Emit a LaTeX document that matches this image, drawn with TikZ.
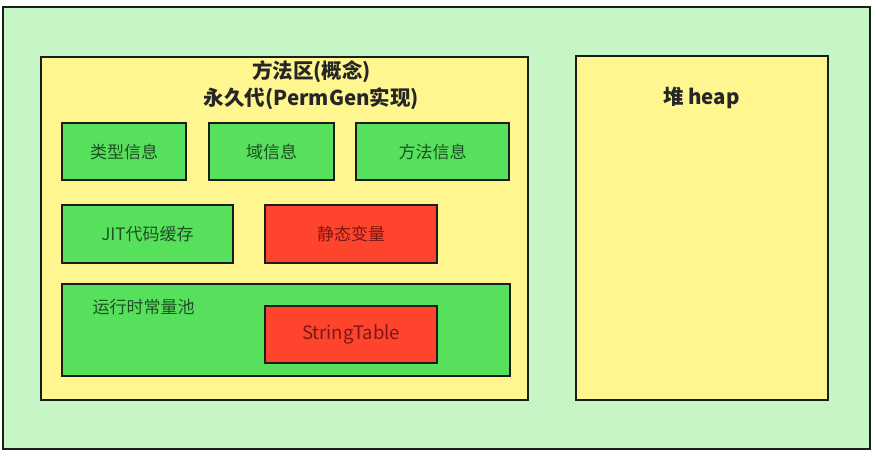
\documentclass[tikz,border=0pt]{standalone}
\usepackage{fontspec}
\setmainfont{Noto Sans CJK SC}
\usepackage{xcolor}
\usetikzlibrary{positioning}
\definecolor{outergreen}{RGB}{198, 245, 198}
\definecolor{areayellow}{RGB}{255, 246, 143}
\definecolor{boxgreen}{RGB}{87, 224, 92}
\definecolor{boxred}{RGB}{255, 68, 46}
\definecolor{greentext}{RGB}{30, 80, 35}
\definecolor{redtext}{RGB}{120, 25, 20}
\definecolor{edgedark}{RGB}{25, 30, 25}

\tikzset{
    region/.style={draw=edgedark, line width=1.6pt, inner sep=0pt},
    greenbox/.style={region, fill=boxgreen, text=greentext, font=\fontsize{17}{20}\selectfont},
    redbox/.style={region, fill=boxred, text=redtext, font=\fontsize{17}{20}\selectfont},
    titletext/.style={font=\bfseries\fontsize{20.5}{24}\selectfont, text=black!85}
}

\begin{document}
\begin{tikzpicture}[x=1pt, y=-1pt]
    \useasboundingbox (0,0) rectangle (876,456);
    \fill[white] (0,0) rectangle (876,456);

    % Outer area
    \node[region, fill=outergreen, minimum width=867pt, minimum height=442pt] (outer) at (436.5,228) {};

    % Method area and heap
    \node[region, fill=areayellow, minimum width=487pt, minimum height=343pt] (method) at (284.5,228.5) {};
    \node[region, fill=areayellow, minimum width=252pt, minimum height=344pt] (heap) at (702,228) {};
    \node[titletext] (methodtitle) at (311.5,72) {方法区(概念)};
    \node[titletext] (permgen) at (311.5,99) {永久代(PermGen实现)};
    \node[titletext] (heaptitle) at (701.5,98) {堆 heap};

    % First row
    \node[greenbox, minimum width=124pt, minimum height=57pt] (typeinfo) at (124,151.5) {类型信息};
    \node[greenbox, minimum width=125pt, minimum height=57pt] (fieldinfo) at (271.5,151.5) {域信息};
    \node[greenbox, minimum width=153pt, minimum height=57pt] (methodinfo) at (432.5,151.5) {方法信息};

    % Second row
    \node[greenbox, minimum width=171pt, minimum height=58pt] (jitcache) at (147.5,234) {JIT代码缓存};
    \node[redbox, minimum width=172pt, minimum height=58pt] (staticvars) at (351,234) {静态变量};

    % Runtime constant pool
    \node[greenbox, minimum width=448pt, minimum height=92pt] (pool) at (286,330) {};
    \node[font=\fontsize{17}{20}\selectfont, text=greentext] (pooltitle) at (143.5,307) {运行时常量池};
    \node[redbox, minimum width=172pt, minimum height=57pt, font=\fontsize{18.5}{22}\selectfont] (stringtable) at (351,334.5) {StringTable};
\end{tikzpicture}
\end{document}
